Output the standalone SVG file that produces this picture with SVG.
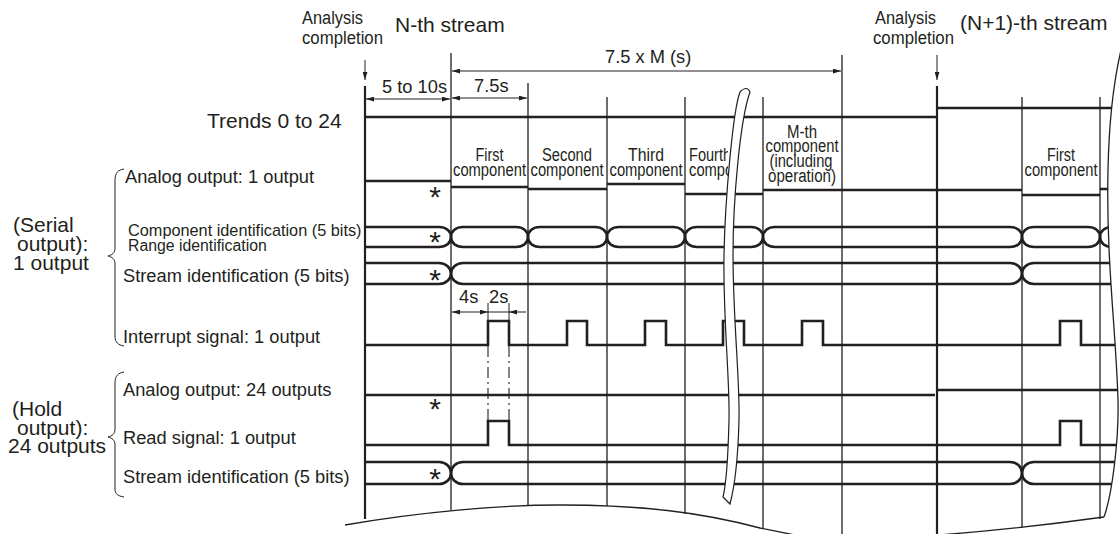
<svg xmlns="http://www.w3.org/2000/svg" width="1120" height="534" viewBox="0 0 1120 534">
<style>
.s{stroke:#231f20;stroke-width:2.6;fill:none}
.g{stroke:#231f20;stroke-width:1.3;fill:none}
.gt{stroke:#231f20;stroke-width:2.2;fill:none}
.th{stroke:#231f20;stroke-width:1;fill:none}
.dd{stroke:#231f20;stroke-width:1.1;fill:none;stroke-dasharray:11 4 2 4}
text{font-family:"Liberation Sans",Arial,sans-serif;fill:#231f20}
.big{font-size:21px}
.lbl{font-size:18.3px}
.sm{font-size:16.3px}
.ac{font-size:18px}
.col{font-size:18px;text-anchor:middle}
.ast{font-size:30px;text-anchor:middle}
</style>
<defs>
<marker id="ah" viewBox="0 0 10 6" refX="10" refY="3" markerWidth="8" markerHeight="5" orient="auto-start-reverse" markerUnits="userSpaceOnUse">
<path d="M0,0 L10,3 L0,6 Z" fill="#231f20"/>
</marker>
<clipPath id="c4"><rect x="685" y="140" width="43" height="50"/></clipPath>
</defs>

<g id="grid">
<path class="gt" d="M365,86 V519 M937,86 V536"/>
<path class="g" d="M451,53 V510 M528,83 V506 M607,97 V506 M685,97 V514 M763,97 V528 M842,55 V536 M1022,97 V528 M1100,97 V519"/>
<path class="g" d="M345,525 C420,512 500,505 560,505 C640,505 700,512 760,528 L800,536"/>
<path class="g" d="M925,536 Q1010,530 1104,517"/>
</g>

<g id="connectors">
<path class="th" marker-end="url(#ah)" d="M365,60 V80"/>
<path class="th" marker-end="url(#ah)" d="M937,55 V80"/>
<path class="th" marker-start="url(#ah)" marker-end="url(#ah)" d="M366,99 H450"/>
<path class="th" marker-start="url(#ah)" marker-end="url(#ah)" d="M452,98 H527"/>
<path class="th" marker-start="url(#ah)" marker-end="url(#ah)" d="M452,71 H841"/>
<path class="th" marker-start="url(#ah)" marker-end="url(#ah)" d="M452,312 H488"/>
<path class="th" d="M488,312 H509"/>
<path class="th" marker-end="url(#ah)" d="M526,312 H509"/>
<path class="th" d="M488,303 V321 M509,303 V321"/>
<path class="dd" d="M488,346 V421 M509,346 V421"/>
</g>

<g id="trends">
<path class="s" d="M365,117 H937 M937,108 H1125"/>
</g>

<g id="analog1">
<path class="s" d="M365,181 H451 M451,187 H528 M528,189 H607 M607,184 H685 M685,194 H763 M763,190 H1022 M1022,195 H1100 M1100,189 H1125"/>
</g>

<g id="component-bus">
<path class="s" d="M365,227 H439 C446,227 451,231 451,237 C451,243 446,247 439,247 H365"/>
<path class="s" d="M463,227 H516 C523,227 528,231 528,237 C528,243 523,247 516,247 H463 C456,247 451,243 451,237 C451,231 456,227 463,227 Z"/>
<path class="s" d="M540,227 H595 C602,227 607,231 607,237 C607,243 602,247 595,247 H540 C533,247 528,243 528,237 C528,231 533,227 540,227 Z"/>
<path class="s" d="M619,227 H673 C680,227 685,231 685,237 C685,243 680,247 673,247 H619 C612,247 607,243 607,237 C607,231 612,227 619,227 Z"/>
<path class="s" d="M697,227 H751 C758,227 763,231 763,237 C763,243 758,247 751,247 H697 C690,247 685,243 685,237 C685,231 690,227 697,227 Z"/>
<path class="s" d="M775,227 H1010 C1017,227 1022,231 1022,237 C1022,243 1017,247 1010,247 H775 C768,247 763,243 763,237 C763,231 768,227 775,227 Z"/>
<path class="s" d="M1034,227 H1088 C1095,227 1100,231 1100,237 C1100,243 1095,247 1088,247 H1034 C1027,247 1022,243 1022,237 C1022,231 1027,227 1034,227 Z"/>
<path class="s" d="M1125,227 H1112 C1105,227 1100,231 1100,237 C1100,243 1105,247 1112,247 H1125"/>
</g>

<g id="stream-bus-serial">
<path class="s" d="M365,263 H439 C446,263 451,268 451,273.5 C451,279 446,284 439,284 H365"/>
<path class="s" d="M463,263 H1010 C1017,263 1022,268 1022,273.5 C1022,279 1017,284 1010,284 H463 C456,284 451,279 451,273.5 C451,268 456,263 463,263 Z"/>
<path class="s" d="M1125,263 H1034 C1027,263 1022,268 1022,273.5 C1022,279 1027,284 1034,284 H1125"/>
</g>

<g id="interrupt">
<path class="s" d="M365,345 H488 V321 H509 V345 H567 V321 H587 V345 H645 V321 H666 V345 H723 V321 H744 V345 H802 V321 H823 V345 H1060 V321 H1081 V345 H1125"/>
</g>

<g id="analog24">
<path class="s" d="M365,395 H935 M937,390 H1125"/>
</g>

<g id="read">
<path class="s" d="M365,445 H488 V421 H509 V445 H1060 V421 H1081 V445 H1125"/>
</g>

<g id="stream-bus-hold">
<path class="s" d="M365,462 H439 C446,462 451,467 451,473 C451,479 446,484 439,484 H365"/>
<path class="s" d="M463,462 H1010 C1017,462 1022,467 1022,473 C1022,479 1017,484 1010,484 H463 C456,484 451,479 451,473 C451,467 456,462 463,462 Z"/>
<path class="s" d="M1125,462 H1034 C1027,462 1022,467 1022,473 C1022,479 1027,484 1034,484 H1125"/>
</g>

<g id="column-labels">
<text class="col"><tspan x="489.5" y="161" textLength="28" lengthAdjust="spacingAndGlyphs">First</tspan><tspan x="489.5" y="176" textLength="73" lengthAdjust="spacingAndGlyphs">component</tspan></text>
<text class="col"><tspan x="567" y="161" textLength="50" lengthAdjust="spacingAndGlyphs">Second</tspan><tspan x="567" y="176" textLength="73" lengthAdjust="spacingAndGlyphs">component</tspan></text>
<text class="col"><tspan x="646" y="161" textLength="36" lengthAdjust="spacingAndGlyphs">Third</tspan><tspan x="646" y="176" textLength="73" lengthAdjust="spacingAndGlyphs">component</tspan></text>
<g clip-path="url(#c4)">
<text class="ac"><tspan x="689" y="161" textLength="42" lengthAdjust="spacingAndGlyphs">Fourth</tspan><tspan x="689" y="176" textLength="73" lengthAdjust="spacingAndGlyphs">component</tspan></text>
</g>
<text class="col"><tspan x="802" y="138" textLength="30" lengthAdjust="spacingAndGlyphs">M-th</tspan><tspan x="802" y="152" textLength="73" lengthAdjust="spacingAndGlyphs">component</tspan><tspan x="801" y="167" textLength="63" lengthAdjust="spacingAndGlyphs">(including</tspan><tspan x="802" y="182" textLength="68" lengthAdjust="spacingAndGlyphs">operation)</tspan></text>
<text class="col"><tspan x="1061" y="161" textLength="28" lengthAdjust="spacingAndGlyphs">First</tspan><tspan x="1061" y="176" textLength="73" lengthAdjust="spacingAndGlyphs">component</tspan></text>
</g>

<g id="break-mid">
<path d="M740,92 C733,110 725,200 724,255 C723,320 730,380 729,420 C728,460 726,485 723,497 L730,504 C735,485 738,460 739,420 C740,380 733,320 733,255 C733,200 740,120 750,92 Q747,85 740,92 Z" fill="#fff" stroke="#231f20" stroke-width="1.2"/>
</g>

<g id="break-right">
<path d="M1104,517 C1112,495 1119,440 1118,400 C1116,330 1106,260 1108,170 C1109,120 1114,80 1121,50 L1125,50 L1125,540 L1104,540 Z" fill="#fff"/>
<path class="g" d="M1104,517 C1112,495 1119,440 1118,400 C1116,330 1106,260 1108,170 C1109,120 1114,80 1121,50"/>
</g>

<g id="asterisks">
<text class="ast" x="435" y="207">*</text>
<text class="ast" x="435" y="252">*</text>
<text class="ast" x="435" y="290">*</text>
<text class="ast" x="435" y="419">*</text>
<text class="ast" x="435" y="489">*</text>
</g>

<g id="header-labels">
<text class="ac"><tspan x="302" y="24" textLength="61" lengthAdjust="spacingAndGlyphs">Analysis</tspan><tspan x="302" y="44" textLength="81" lengthAdjust="spacingAndGlyphs">completion</tspan></text>
<text class="big" x="395" y="32">N-th stream</text>
<text class="ac"><tspan x="875" y="24" textLength="61" lengthAdjust="spacingAndGlyphs">Analysis</tspan><tspan x="873" y="44" textLength="81" lengthAdjust="spacingAndGlyphs">completion</tspan></text>
<text class="big" x="960" y="30">(N+1)-th stream</text>
<text class="lbl" x="605" y="63">7.5 x M (s)</text>
<text class="lbl" x="382" y="93">5 to 10s</text>
<text class="lbl" x="474" y="92">7.5s</text>
<text class="lbl" x="459" y="303">4s</text>
<text class="lbl" x="489" y="303">2s</text>
<text class="big" x="207" y="128">Trends 0 to 24</text>
</g>

<g id="serial-labels">
<path class="th" stroke-width="1.2" d="M124,169 C118,170 115,173 115,180 L115,248 C115,253 112,255 108,256 C112,257 115,259 115,264 L115,337 C115,342 118,345 124,346"/>
<text class="big"><tspan x="13" y="232">(Serial</tspan><tspan x="17" y="251">output):</tspan><tspan x="13" y="270">1 output</tspan></text>
<text class="lbl" x="125" y="183">Analog output: 1 output</text>
<text class="sm"><tspan x="128" y="236">Component identification (5 bits)</tspan><tspan x="128" y="251" style="font-size:15.8px">Range identification</tspan></text>
<text class="lbl" x="123" y="282">Stream identification (5 bits)</text>
<text class="lbl" x="123" y="343">Interrupt signal: 1 output</text>
</g>

<g id="hold-labels">
<path class="th" stroke-width="1.2" d="M124,372 C118,373 115,376 115,383 L115,429 C115,434 112,436 108,437 C112,438 115,440 115,445 L115,489 C115,494 118,496 124,497"/>
<text class="big"><tspan x="12" y="416">(Hold</tspan><tspan x="17" y="435">output):</tspan><tspan x="8" y="453">24 outputs</tspan></text>
<text class="lbl" x="123" y="396">Analog output: 24 outputs</text>
<text class="lbl" x="123" y="444">Read signal: 1 output</text>
<text class="lbl" x="123" y="483">Stream identification (5 bits)</text>
</g>
</svg>
